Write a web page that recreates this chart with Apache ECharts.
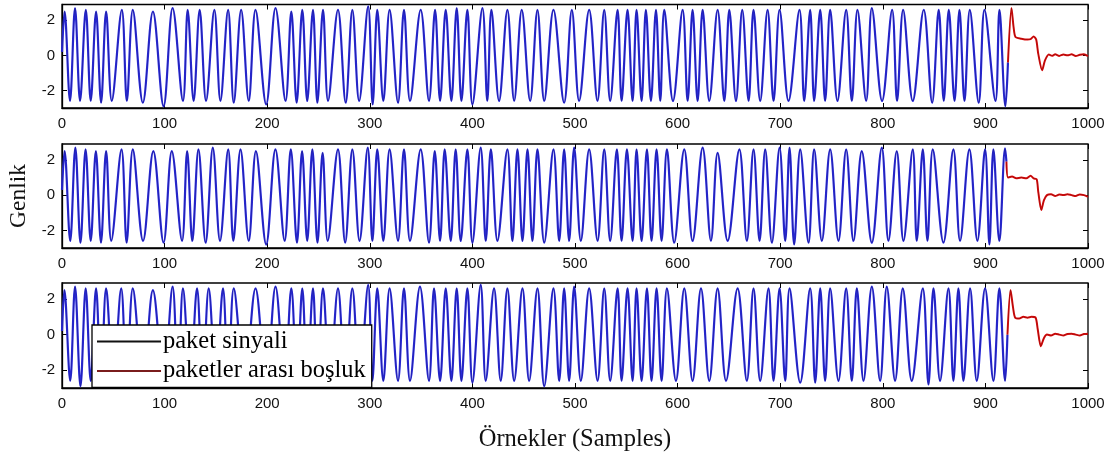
<!DOCTYPE html>
<html><head><meta charset="utf-8">
<script src="https://cdn.jsdelivr.net/npm/echarts@6/dist/echarts.min.js"></script>
<style>html,body{margin:0;padding:0;background:#fff}#c{width:1117px;height:457px}</style>
</head><body><div id="c"></div><script>
// ---- data (extrema: [sample, amplitude]) ----
const xTickStep = 100;
const yTickValues = [-2, 0, 2];
const seriesNames = ['paket sinyali', 'paketler arası boşluk'];
const axisTitles = {x: 'Örnekler (Samples)', y: 'Genlik'};

const sig1 = [[0,0.2],[2.5,2.5],[7.8,-2.6],[12.7,2.7],[17.6,-2.6],[23.2,2.6],[28,-2.6],[33.2,2.5],[38.1,-2.7],[43,2.5],[48.5,-2.6],[58.3,2.6],[63.2,-2.6],[69,2.6],[78.8,-2.7],[88.6,2.5],[99,-2.9],[107.8,2.7],[117.9,-2.6],[122.5,2.6],[128.3,-2.6],[134.2,2.6],[140.4,-2.6],[148.5,2.6],[154.4,-2.6],[161.9,2.6],[167.4,-2.7],[174.6,2.6],[182,-2.6],[188.6,2.6],[199,-2.8],[208.1,2.7],[217.9,-2.6],[223.5,2.5],[228.7,-2.7],[234.2,2.6],[239,-2.6],[244.6,2.6],[248.9,-2.7],[254.4,2.6],[259.3,-2.6],[269,2.6],[276.5,-2.7],[283,2.6],[289.6,-2.6],[298.4,2.8],[302.8,-2.8],[307.3,2.6],[313.2,-2.6],[319.3,2.6],[327.5,-2.7],[333.3,2.6],[339.2,-2.6],[349.6,2.6],[357.7,-2.6],[363.6,2.6],[368.5,-2.6],[374,2.6],[379.5,-2.6],[384.7,2.7],[389.3,-2.6],[395.1,2.6],[400,-2.8],[409.8,2.7],[414.5,-2.6],[418.5,2.6],[426,-2.6],[434.1,2.6],[440.7,-2.6],[448.1,2.6],[456.3,-2.6],[463.4,2.6],[470,-2.6],[479,2.6],[489.4,-2.7],[496.9,2.6],[504,-2.6],[513.8,2.6],[521.9,-2.6],[528.5,2.6],[534.3,-2.6],[541.5,2.6],[545.4,-2.6],[551.2,2.6],[556.1,-2.6],[560,2.6],[564.9,-2.6],[569.1,2.6],[574,-2.6],[578.9,2.6],[583.1,-2.6],[587,2.6],[595.5,-2.6],[604.9,2.6],[609.8,-2.6],[614.6,2.6],[619.5,-2.6],[624.4,2.6],[630.9,-2.6],[639,2.6],[645.5,-2.6],[650.4,2.6],[656.9,-2.6],[663,2.6],[669.2,-2.6],[674,2.6],[680.5,-2.6],[687.7,2.6],[693.5,-2.6],[699.4,2.6],[708.1,-2.6],[718.8,2.6],[723.4,-2.6],[729.2,2.6],[733.1,-2.6],[739,2.6],[743.8,-2.6],[748.7,2.6],[755.8,-2.6],[764.3,2.6],[769.8,-2.6],[775.3,2.6],[783.8,-2.6],[789.3,2.7],[799.3,-2.6],[809.1,2.6],[813.9,-2.6],[819.8,2.6],[829.2,-2.6],[839.9,2.6],[848.1,-2.7],[854.5,2.6],[859.4,-2.6],[864.3,2.6],[869.9,-2.6],[874.7,2.6],[879.6,-2.6],[884.8,2.6],[893.5,-2.7],[899.1,2.6],[909.8,-2.6],[913.7,2.6],[919.5,-2.9],[922,-0.4]];
const gap1 = [[922,-0.4],[925.4,2.7],[927.5,1.6],[929.3,1.05],[935,0.95],[941,0.9],[944,0.92],[947,1.08],[949.5,0.9],[951.5,0.1],[955.3,-0.85],[958,-0.3],[961.8,0.05],[965,-0.02],[968,0.06],[972,-0.03],[976,0.05],[980,0.0],[984,0.06],[988,-0.04],[992,0.03],[996,0.06],[1000,-0.04]];

const sig2 = [[0,0.3],[2.5,2.5],[8,-2.6],[13,2.7],[18,-2.7],[23,2.6],[28,-2.6],[33,2.5],[38,-2.7],[43,2.5],[48,-2.6],[58,2.6],[63,-2.7],[69,2.6],[79,-2.6],[89,2.5],[99,-2.7],[107,2.5],[117,-2.6],[122,2.5],[127,-2.6],[133,2.6],[140,-2.7],[147,2.7],[154,-2.6],[162,2.6],[167,-2.6],[174,2.6],[182,-2.6],[189,2.5],[199,-2.8],[208,2.6],[217,-2.6],[223,2.6],[229,-2.7],[234,2.5],[239,-2.6],[244,2.6],[249,-2.7],[254,2.4],[259,-2.6],[269,2.6],[276,-2.7],[283,2.6],[290,-2.6],[298,2.7],[302.5,-2.6],[307.3,2.6],[313.2,-2.6],[319.3,2.6],[327.5,-2.6],[333.3,2.6],[339.2,-2.6],[349.6,2.6],[357.7,-2.7],[363.3,2.5],[368.5,-2.6],[373,2.6],[378.9,-2.6],[383.7,2.6],[388.6,-2.6],[395.1,2.6],[400,-2.7],[408.1,2.7],[413,-2.6],[418,2.6],[424.4,-2.6],[434.1,2.6],[439,-2.6],[443.9,2.6],[448.8,-2.6],[453.7,2.6],[458.5,-2.6],[463.4,2.6],[470,-2.7],[479,2.6],[484.6,-2.6],[489.4,2.6],[494.3,-2.6],[499.2,2.7],[505.7,-2.6],[513.8,2.6],[522,-2.6],[528.5,2.6],[534.3,-2.6],[540.8,2.6],[545.4,-2.6],[550.6,2.6],[556.1,-2.6],[560,2.6],[564.9,-2.6],[570.1,2.6],[574.6,-2.6],[579.5,2.6],[584.4,-2.6],[589.6,2.6],[596.7,-2.7],[606.5,2.6],[614.6,-2.6],[624.4,2.7],[632.5,-2.6],[639,2.4],[648.8,-2.6],[660.2,2.6],[667.5,-2.6],[674,2.6],[679.9,-2.6],[685.4,2.6],[691.9,-2.7],[699.4,2.7],[704.9,-2.6],[709.1,2.7],[713.6,-2.8],[719.5,2.6],[727.6,-2.7],[733.1,2.6],[740.6,-2.6],[748.7,2.6],[756.8,-2.6],[764.3,2.6],[771.4,-2.6],[779.5,2.5],[789.3,-2.7],[799,2.7],[805.5,-2.6],[813.6,2.5],[820.1,-2.6],[829.2,2.6],[833.1,-2.6],[839,2.6],[843.5,-2.6],[848.7,2.6],[859.1,-2.7],[868.8,2.6],[875.3,-2.6],[884.4,2.6],[892.2,-2.6],[899.7,2.6],[903.9,-2.8],[907.8,2.6],[913.6,-2.6],[919.2,2.65],[920.5,1.9]];
const gap2 = [[920.5,1.9],[922,1.0],[926,1.05],[930,0.95],[935,1.0],[940,0.95],[944,1.1],[947,0.95],[950,0.9],[951.5,0.2],[954.5,-0.85],[957,-0.3],[960,0.0],[964,0.05],[968,-0.05],[972,0.03],[976,0.0],[980,0.05],[984,0.0],[988,-0.05],[992,0.04],[996,0.0],[1000,-0.1]];

const sig3 = [[0,0.2],[2.3,2.5],[8,-2.6],[12.7,2.7],[18,-2.9],[23.1,2.6],[28,-2.6],[33.2,2.6],[38,-2.6],[43,2.6],[50,-2.6],[57.7,2.6],[63,-2.6],[69,2.6],[79,-2.6],[88.6,2.5],[99,-2.6],[107.8,2.7],[113,-2.6],[117.9,2.6],[125,-2.6],[131.6,2.6],[137,-2.6],[143,2.6],[150,-2.6],[156.9,2.6],[162,-2.6],[167.4,2.6],[178,-2.6],[188.6,2.6],[199,-2.7],[208.1,2.7],[217,-2.6],[223.5,2.6],[229,-2.6],[234.2,2.6],[239,-2.6],[244.6,2.6],[249,-2.6],[254.4,2.6],[261,-2.6],[269,2.6],[276,-2.6],[283,2.6],[290,-2.6],[298.4,2.8],[302.5,-2.6],[307.3,2.6],[313.2,-2.6],[319.3,2.6],[327.5,-2.6],[333.3,2.6],[339.2,-2.6],[348.9,2.7],[357.7,-2.6],[362.6,2.6],[368.5,-2.6],[374,2.6],[379.5,-2.6],[384.7,2.6],[389.3,-2.6],[395.1,2.6],[400,-2.7],[408.1,2.8],[413,-2.6],[421.1,2.6],[427.6,-2.6],[434.1,2.6],[440.7,-2.6],[448.8,2.6],[455.3,-2.6],[463.4,2.6],[470,-2.9],[479,2.6],[484.6,-2.6],[489.4,2.6],[494.3,-2.6],[499.2,2.7],[505.7,-2.6],[513.8,2.6],[522,-2.6],[528.5,2.6],[534.3,-2.6],[541.5,2.6],[545.4,-2.6],[551.2,2.6],[556.1,-2.6],[560,2.6],[564.9,-2.6],[570.1,2.6],[574.6,-2.6],[579.5,2.6],[584.4,-2.6],[589.6,2.6],[598.4,-2.6],[606.5,2.6],[614.6,-2.6],[622.8,2.6],[630.9,-2.6],[639,2.6],[647.2,-2.6],[658.5,2.6],[667.5,-2.6],[674,2.6],[680.5,-2.6],[688.6,2.6],[693.5,-2.6],[699.4,2.6],[704.9,-2.6],[709.1,2.6],[719.5,-2.7],[729.2,2.6],[734.1,-2.7],[739,2.6],[743.8,-2.6],[748.7,2.6],[756.8,-2.6],[764.3,2.6],[769.8,-2.6],[774.7,2.6],[781.2,-2.6],[789.3,2.7],[797.4,-2.6],[803.9,2.7],[812,-2.6],[819.5,2.6],[828.2,-2.6],[839,2.6],[844.5,-2.8],[849.4,2.6],[855.8,-2.6],[864,2.6],[868.8,-2.6],[873.7,2.6],[878.6,-2.6],[885.1,2.6],[891.6,-2.6],[899.7,2.6],[907.8,-2.6],[913.6,2.6],[919.2,-2.6],[921.5,0]];
const gap3 = [[921.5,0],[924.5,2.5],[927,1.5],[929,0.95],[933,0.9],[937,1.0],[941,0.95],[945,1.0],[949,0.95],[951,0.3],[954,-0.65],[957,-0.2],[960,0.0],[964,-0.05],[968,0.05],[972,0.0],[976,-0.05],[980,0.04],[984,0.05],[988,0.0],[992,-0.05],[996,0.03],[1000,0.05]];

const panels = [[sig1, gap1], [sig2, gap2], [sig3, gap3]];

// ---- layout ----
const gridTops = [4.5, 144, 283];
const gridHeights = [103.5, 104, 105];
const BLUE = '#2b2be0', RED = '#e01010';
const tickFont = {fontFamily: 'Liberation Sans, Arial, sans-serif', fontSize: 15, color: '#111'};
const serifFont = 'Liberation Serif, Times New Roman, serif';

const grid = [], xAxis = [], yAxis = [], series = [];
panels.forEach((p, i) => {
  grid.push({left: 62, right: 29, top: gridTops[i], height: gridHeights[i], containLabel: false, outerBoundsMode: 'none',
    show: true, borderColor: '#000', borderWidth: 1.3, backgroundColor: '#fff'});
  const last = i === 2;
  xAxis.push({type: 'value', gridIndex: i, min: 0, max: 1000, interval: xTickStep, position: 'bottom',
    axisLine: {show: true, onZero: false, lineStyle: {color: '#000', width: 1.3}},
    axisTick: {inside: true, length: 5, lineStyle: {color: '#000'}},
    axisLabel: Object.assign({margin: 8, formatter: v => String(v)}, tickFont),
    splitLine: {show: false},
    name: last ? axisTitles.x : '', nameLocation: 'middle', nameGap: 39,
    nameTextStyle: {fontFamily: serifFont, fontSize: 24.5, color: '#111'}});
  xAxis.push({type: 'value', gridIndex: i, min: 0, max: 1000, interval: xTickStep, position: 'top',
    axisLine: {show: false, onZero: false}, axisTick: {inside: true, length: 5, lineStyle: {color: '#000'}},
    axisLabel: {show: false}, splitLine: {show: false}});
  yAxis.push({type: 'value', gridIndex: i, min: -3, max: 2.9, position: 'left',
    axisLine: {show: true, onZero: false, lineStyle: {color: '#000', width: 1.3}},
    axisTick: {inside: true, length: 5, customValues: yTickValues, lineStyle: {color: '#000'}},
    axisLabel: Object.assign({margin: 7, customValues: yTickValues}, tickFont),
    splitLine: {show: false},
    name: i === 1 ? axisTitles.y : '', nameLocation: 'middle', nameGap: 31, nameRotate: 90,
    nameTextStyle: {fontFamily: serifFont, fontSize: 23.5, color: '#111'}});
  yAxis.push({type: 'value', gridIndex: i, min: -3, max: 2.9, position: 'right',
    axisLine: {show: false, onZero: false},
    axisTick: {inside: true, length: 5, customValues: yTickValues, lineStyle: {color: '#000'}},
    axisLabel: {show: false}, splitLine: {show: false}});
  const xi = i * 2, yi = i * 2;
  series.push({name: seriesNames[0], type: 'line', xAxisIndex: xi, yAxisIndex: yi, data: p[0], smooth: 0.35,
    showSymbol: false, silent: true, lineStyle: {color: BLUE, width: 2.2}, itemStyle: {color: '#000'}, z: 2});
  series.push({name: seriesNames[0], type: 'line', xAxisIndex: xi, yAxisIndex: yi, data: p[0], smooth: 0.35,
    showSymbol: false, silent: true, lineStyle: {color: '#000', width: 0.7, opacity: 0.3}, itemStyle: {color: '#000'}, z: 3});
  series.push({name: seriesNames[1], type: 'line', xAxisIndex: xi, yAxisIndex: yi, data: p[1], smooth: 0.25,
    showSymbol: false, silent: true, lineStyle: {color: RED, width: 2}, itemStyle: {color: '#7a1414'}, z: 2});
  series.push({name: seriesNames[1], type: 'line', xAxisIndex: xi, yAxisIndex: yi, data: p[1], smooth: 0.25,
    showSymbol: false, silent: true, lineStyle: {color: '#400', width: 0.7, opacity: 0.45}, itemStyle: {color: '#7a1414'}, z: 3});
});

const chart = echarts.init(document.getElementById('c'), null, {renderer: 'canvas'});
chart.setOption({
  animation: false,
  backgroundColor: '#fff',
  grid, xAxis, yAxis, series,
  legend: {
    left: 92, top: 325, orient: 'vertical', icon: 'rect', itemWidth: 64, itemHeight: 2, itemGap: 4.5,
    padding: [4, 6, 4, 5], backgroundColor: '#fff', borderColor: '#000', borderWidth: 1.3,
    selectedMode: false, z: 10,
    textStyle: {fontFamily: serifFont, fontSize: 24.5, color: '#000', padding: [0, 0, 0, -3]},
    data: [{name: seriesNames[0], itemStyle: {color: '#111'}}, {name: seriesNames[1], itemStyle: {color: '#7a1c1c'}}]
  }
});
</script></body></html>
